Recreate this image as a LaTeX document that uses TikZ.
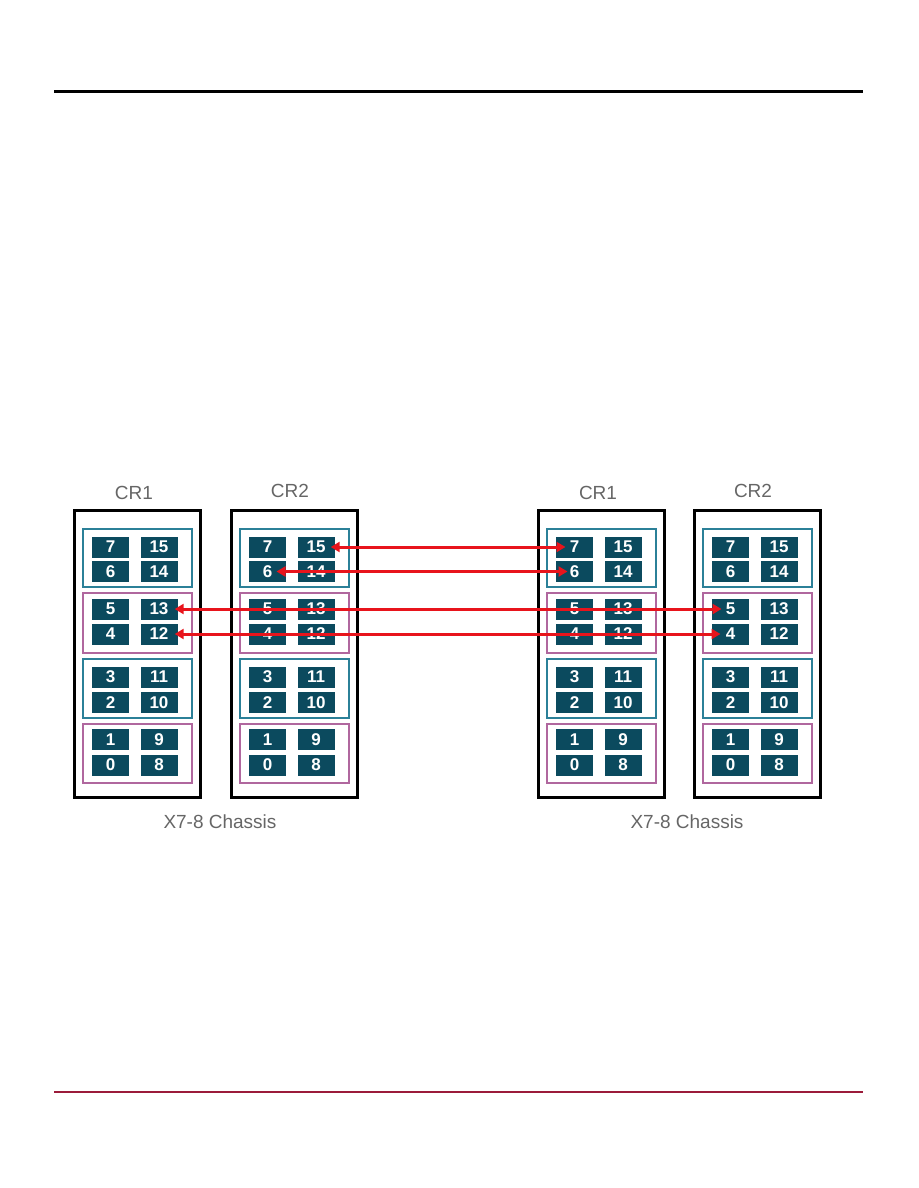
\documentclass[tikz,border=0pt]{standalone}
\usepackage{fontspec}
\setmainfont{Liberation Sans}
\usetikzlibrary{arrows.meta}
\definecolor{portfill}{HTML}{0B4A5E}
\definecolor{tealb}{HTML}{2B8098}
\definecolor{pinkb}{HTML}{B0679E}
\definecolor{cable}{HTML}{E8141C}
\definecolor{labelgray}{HTML}{666666}
\definecolor{footred}{HTML}{9B1B3A}
\tikzset{
 port/.style={fill=portfill, minimum width=37pt, minimum height=21pt, inner sep=0pt, text=white, font=\bfseries\fontsize{17}{17}\selectfont},
 chassisbox/.style={draw=black, line width=3pt},
 tealgroup/.style={draw=tealb, line width=2.6pt},
 pinkgroup/.style={draw=pinkb, line width=2.6pt},
 crlabel/.style={text=labelgray, font=\fontsize{19}{19}\selectfont},
 cablestyle/.style={draw=cable, line width=3pt, {Triangle[length=9pt,width=10pt]}-{Triangle[length=9pt,width=10pt]}},
 rulestyle/.style={line width=3pt},
}
\begin{document}
\begin{tikzpicture}[x=1pt,y=-1pt]
\useasboundingbox (0,0) rectangle (918,1188);
\coordinate (topL) at (54,92);
\coordinate (topR) at (863,92);
\coordinate (botL) at (54,1092);
\coordinate (botR) at (863,1092);
\draw[rulestyle, black] (topL) -- (topR);
\draw[rulestyle, footred, line width=2.6pt] (botL) -- (botR);

\foreach \pre/\X in {L1/74, L2/231, R1/538, R2/694} {
  \draw[chassisbox] (\X,510) rectangle (\X+126,797);
  \draw[tealgroup] (\X+9,529) rectangle (\X+118,587);
  \draw[pinkgroup] (\X+9,593) rectangle (\X+118,653);
  \draw[tealgroup] (\X+9,659) rectangle (\X+118,718);
  \draw[pinkgroup] (\X+9,724) rectangle (\X+118,783);
  \foreach \r/\yc in {0/547,1/571.5,2/609,3/634,4/677,5/702.5,6/739.5,7/765} {
    \pgfmathtruncatemacro\lo{7-\r}
    \pgfmathtruncatemacro\hi{15-\r}
    \node[port] (\pre p\lo) at (\X+36.5,\yc) {\lo};
    \node[port] (\pre p\hi) at (\X+85,\yc) {\hi};
  }
}

\node[crlabel] (L1lab) at (134,493) {CR1};
\node[crlabel] (L2lab) at (290,491) {CR2};
\node[crlabel] (R1lab) at (598,493) {CR1};
\node[crlabel] (R2lab) at (753,491) {CR2};
\node[crlabel] (Lch) at (220,822) {X7-8 Chassis};
\node[crlabel] (Rch) at (687,822) {X7-8 Chassis};

\draw[cablestyle] ([xshift=-4pt]L2p15.east) -- ([xshift=-9pt]R1p7.center);
\draw[cablestyle] ([xshift=9pt]L2p6.center) -- ([xshift=-7pt]R1p6.center);
\draw[cablestyle] ([xshift=-3pt]L1p13.east) -- ([xshift=-9pt]R2p5.center);
\draw[cablestyle] ([xshift=-3pt]L1p12.east) -- ([xshift=-10pt]R2p4.center);
\end{tikzpicture}
\end{document}
